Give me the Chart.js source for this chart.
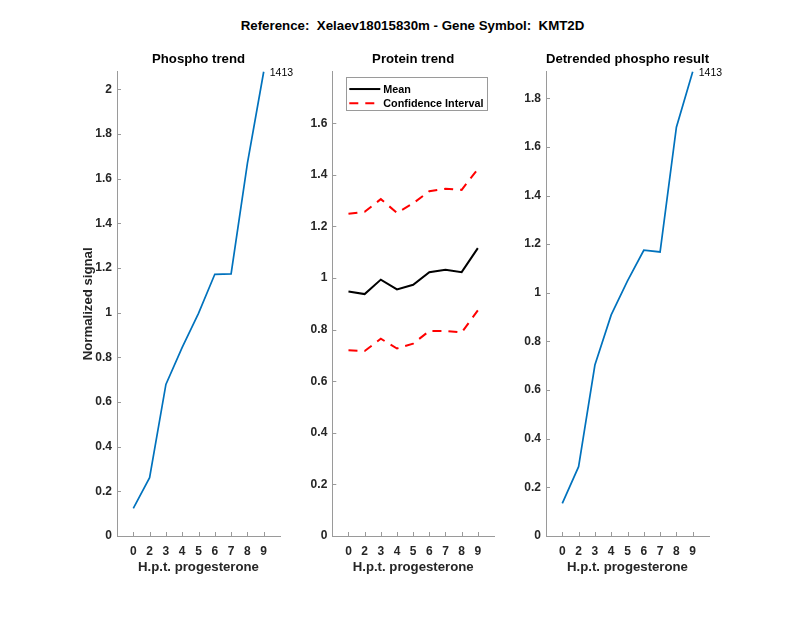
<!DOCTYPE html>
<html>
<head>
<meta charset="utf-8">
<script src="https://cdn.jsdelivr.net/npm/chart.js@4.4.1/dist/chart.umd.min.js"></script>
<style>
html,body{margin:0;padding:0;background:#fff;}
#wrap{position:relative;width:800px;height:618px;overflow:hidden;background:#fff;}
canvas{position:absolute;left:0;top:0;}
#main{position:absolute;left:0;width:825px;top:17.5px;text-align:center;font:bold 13.3px "Liberation Sans",Arial,sans-serif;color:#000;white-space:pre;line-height:16px;}
</style>
</head>
<body>
<div id="wrap">
<div id="main">Reference:  Xelaev18015830m - Gene Symbol:  KMT2D</div>
<canvas id="c1" width="800" height="618"></canvas>
<canvas id="c2" width="800" height="618"></canvas>
<canvas id="c3" width="800" height="618"></canvas>
</div>
<script>
// ---- data ----
const timeLabels = ['0', '2', '3', '4', '5', '6', '7', '8', '9'];
const phosphoTrend = [0.124, 0.261, 0.679, 0.845, 0.997, 1.172, 1.174, 1.669, 2.079];
const proteinMean = [0.948, 0.938, 0.994, 0.956, 0.974, 1.023, 1.032, 1.023, 1.116];
const proteinUpper = [1.249, 1.257, 1.306, 1.253, 1.290, 1.337, 1.346, 1.342, 1.423];
const proteinLower = [0.720, 0.717, 0.765, 0.727, 0.746, 0.795, 0.795, 0.789, 0.875];
const detrendedPhospho = [0.134, 0.285, 0.703, 0.909, 1.049, 1.175, 1.168, 1.681, 1.909];
const phosphoTicks = [0, 0.2, 0.4, 0.6, 0.8, 1, 1.2, 1.4, 1.6, 1.8, 2];
const proteinTicks = [0, 0.2, 0.4, 0.6, 0.8, 1, 1.2, 1.4, 1.6];
const detrendedTicks = [0, 0.2, 0.4, 0.6, 0.8, 1, 1.2, 1.4, 1.6, 1.8];
const proteinYMax = 1.8;
const peptideLabel = '1413';

// ---- styling ----
const FONT = '"Liberation Sans", Arial, Helvetica, sans-serif';
const AXIS_COLOR = '#9a9a9a';
const TICK_TEXT = '#262626';
const BLUE = '#0072BD';

const toXY = arr => arr.map((v, i) => ({x: i, y: v}));

const innerTicks = {
  id: 'innerTicks',
  afterDraw(chart) {
    const ctx = chart.ctx, ca = chart.chartArea;
    const xs = chart.scales.x, ys = chart.scales.y;
    ctx.save();
    ctx.strokeStyle = AXIS_COLOR;
    ctx.lineWidth = 1;
    ctx.beginPath();
    xs.ticks.forEach(t => {
      const px = Math.round(xs.getPixelForValue(t.value)) + 0.5;
      ctx.moveTo(px, ca.bottom);
      ctx.lineTo(px, ca.bottom - 4);
    });
    ys.ticks.forEach(t => {
      const py = Math.round(ys.getPixelForValue(t.value)) + 0.5;
      ctx.moveTo(ca.left, py);
      ctx.lineTo(ca.left + 4, py);
    });
    ctx.stroke();
    ctx.restore();
  }
};

const endLabel = {
  id: 'endLabel',
  afterDraw(chart, args, opts) {
    if (!opts.text) return;
    const meta = chart.getDatasetMeta(0);
    const last = meta.data[meta.data.length - 1];
    const ctx = chart.ctx;
    ctx.save();
    ctx.font = '10.5px ' + FONT;
    ctx.fillStyle = '#000';
    ctx.textAlign = 'left';
    ctx.textBaseline = 'middle';
    ctx.fillText(opts.text, last.x + 6, last.y + 1.5);
    ctx.restore();
  }
};

const insideLegend = {
  id: 'insideLegend',
  afterDraw(chart, args, opts) {
    if (!opts.show) return;
    const ctx = chart.ctx, ca = chart.chartArea;
    const items = chart.data.datasets.filter(d => !d.hideInLegend);
    const bx = ca.left + 13.7, by = ca.top + 5.6, bw = 140.7, bh = 33.4;
    ctx.save();
    ctx.fillStyle = '#fff';
    ctx.fillRect(bx, by, bw, bh);
    ctx.strokeStyle = AXIS_COLOR;
    ctx.lineWidth = 1;
    ctx.strokeRect(Math.round(bx) + 0.5, Math.round(by) + 0.5, Math.round(bw), Math.round(bh));
    items.forEach((d, i) => {
      const y = by + 11.7 + i * 14.3;
      ctx.beginPath();
      ctx.strokeStyle = d.borderColor;
      ctx.lineWidth = d.borderWidth;
      ctx.setLineDash(d.borderDash || []);
      ctx.moveTo(ca.left + 17, y);
      ctx.lineTo(ca.left + 48, y);
      ctx.stroke();
      ctx.setLineDash([]);
      ctx.font = 'bold 10.8px ' + FONT;
      ctx.fillStyle = '#000';
      ctx.textAlign = 'left';
      ctx.textBaseline = 'middle';
      ctx.fillText(d.label, ca.left + 51, y + 0.5);
    });
    ctx.restore();
  }
};

function makePanel(id, cfg) {
  const Y_W = 40, X_H = 38.8;
  const padTop = 51.9, areaBottom = 536;
  return new Chart(document.getElementById(id), {
    type: 'line',
    data: {datasets: cfg.datasets},
    options: {
      responsive: false,
      animation: false,
      events: [],
      layout: {padding: {left: cfg.axisLeft - Y_W, right: 800 - cfg.axisRight, top: padTop, bottom: 618 - areaBottom - X_H}},
      elements: {point: {radius: 0}, line: {tension: 0}},
      plugins: {
        legend: {display: false},
        tooltip: {enabled: false},
        title: {display: true, text: cfg.title, fullSize: false, color: '#000',
                font: {family: FONT, size: 13.2, weight: 'bold', lineHeight: 1.2}, padding: {top: 0, bottom: 4}},
        endLabel: {text: cfg.endText || ''},
        insideLegend: {show: !!cfg.legend}
      },
      scales: {
        x: {
          type: 'linear', min: -1, max: timeLabels.length,
          afterBuildTicks: s => { s.ticks = timeLabels.map((l, i) => ({value: i})); },
          afterFit: s => { s.height = X_H; },
          ticks: {callback: v => timeLabels[v], color: TICK_TEXT, padding: 8, maxRotation: 0, autoSkip: false,
                  font: {family: FONT, size: 12, weight: 'bold'}},
          grid: {display: false, drawTicks: false},
          border: {display: true, color: AXIS_COLOR, width: 1},
          title: {display: true, text: 'H.p.t. progesterone', color: TICK_TEXT,
                  font: {family: FONT, size: 13.2, weight: 'bold', lineHeight: 1.2}, padding: {top: 0, bottom: 0}}
        },
        y: {
          type: 'linear', min: 0, max: cfg.yMax,
          afterBuildTicks: s => { s.ticks = cfg.yTicks.map(v => ({value: v})); },
          afterFit: s => { s.width = Y_W; },
          ticks: {callback: v => String(v), color: TICK_TEXT, padding: 5,
                  font: {family: FONT, size: 12, weight: 'bold'}},
          grid: {display: false, drawTicks: false},
          border: {display: true, color: AXIS_COLOR, width: 1},
          title: {display: !!cfg.yTitle, text: cfg.yTitle || '', color: TICK_TEXT,
                  font: {family: FONT, size: 13.2, weight: 'bold', lineHeight: 1.2}, padding: {top: 3, bottom: 0}}
        }
      }
    },
    plugins: [innerTicks, endLabel, insideLegend]
  });
}

makePanel('c1', {
  axisLeft: 117, axisRight: 280,
  yMax: Math.max(...phosphoTrend), yTicks: phosphoTicks,
  title: 'Phospho trend', yTitle: 'Normalized signal', endText: peptideLabel,
  datasets: [{label: 'Phospho trend', data: toXY(phosphoTrend), borderColor: BLUE, borderWidth: 1.7, clip: false}]
});

makePanel('c2', {
  axisLeft: 332.3, axisRight: 494,
  yMax: proteinYMax, yTicks: proteinTicks,
  title: 'Protein trend', legend: true,
  datasets: [
    {label: 'Mean', data: toXY(proteinMean), borderColor: '#000', borderWidth: 2, clip: false},
    {label: 'Confidence Interval', data: toXY(proteinUpper), borderColor: '#ff0000', borderWidth: 2, borderDash: [9, 7], clip: false},
    {label: 'Confidence Interval', data: toXY(proteinLower), borderColor: '#ff0000', borderWidth: 2, borderDash: [9, 7], clip: false, hideInLegend: true}
  ]
});

makePanel('c3', {
  axisLeft: 546, axisRight: 709,
  yMax: Math.max(...detrendedPhospho), yTicks: detrendedTicks,
  title: 'Detrended phospho result', endText: peptideLabel,
  datasets: [{label: 'Detrended phospho result', data: toXY(detrendedPhospho), borderColor: BLUE, borderWidth: 1.7, clip: false}]
});
</script>
</body>
</html>
